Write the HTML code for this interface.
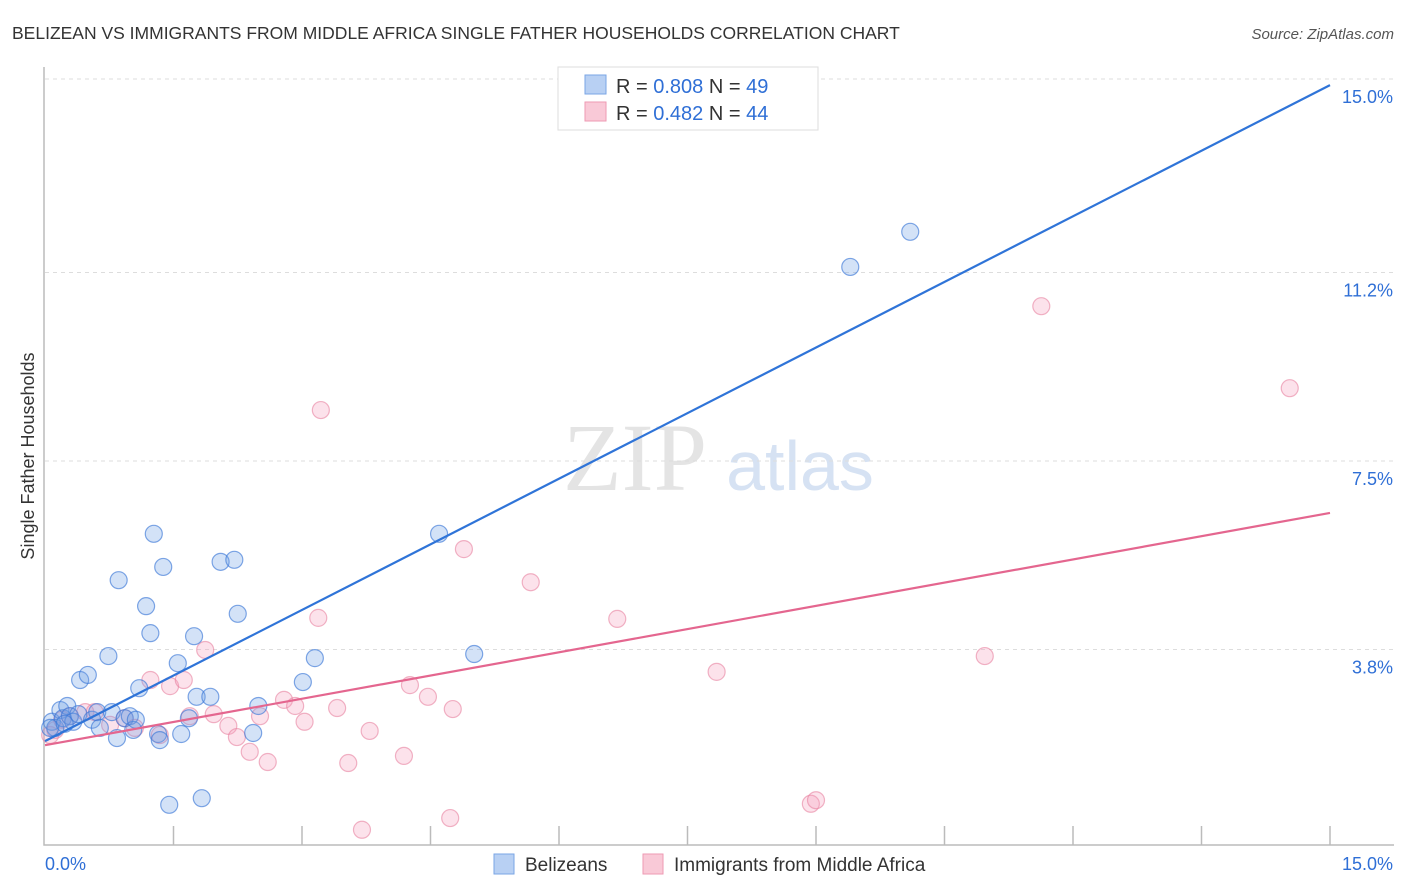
<!DOCTYPE html>
<html><head><meta charset="utf-8"><style>
body{margin:0;background:#fff;font-family:"Liberation Sans",sans-serif;}
svg{display:block}
</style></head><body>
<svg id="chart" width="1406" height="892">
<text x="12" y="39" font-size="17.5" fill="#333">BELIZEAN VS IMMIGRANTS FROM MIDDLE AFRICA SINGLE FATHER HOUSEHOLDS CORRELATION CHART</text>
<text x="1394" y="39" font-size="15" fill="#555" font-style="italic" text-anchor="end">Source: ZipAtlas.com</text>
<text x="0" y="0" transform="translate(34,456) rotate(-90)" font-size="18" fill="#333" text-anchor="middle">Single Father Households</text>
<g><text x="635" y="490" font-size="96" fill="#e4e4e4" font-family="Liberation Serif,serif" text-anchor="middle">ZIP</text><text x="800" y="490" font-size="70" fill="#d6e2f3" text-anchor="middle">atlas</text></g>
<g id="grid"></g><g id="axes"></g><g id="pts"></g><g id="lines"></g>
<g>
<rect x="558" y="67" width="260" height="63" fill="#fff" stroke="#ddd"/>
<rect x="585" y="75" width="21" height="19" fill="#b8d0f3" stroke="#7aa6e6"/>
<rect x="585" y="102" width="21" height="19" fill="#f9c9d7" stroke="#ee9ab3"/>
<text x="616" y="93" font-size="20" fill="#333">R = <tspan fill="#2f6fd6">0.808</tspan>   N = <tspan fill="#2f6fd6">49</tspan></text>
<text x="616" y="120" font-size="20" fill="#333">R = <tspan fill="#2f6fd6">0.482</tspan>   N = <tspan fill="#2f6fd6">44</tspan></text>
</g>
<g>
<rect x="494" y="854" width="20" height="20" fill="#b8d0f3" stroke="#7aa6e6"/>
<text x="525" y="871" font-size="19" fill="#333">Belizeans</text>
<rect x="643" y="854" width="20" height="20" fill="#f9c9d7" stroke="#ee9ab3"/>
<text x="674" y="871" font-size="19" fill="#333">Immigrants from Middle Africa</text>
</g>
</svg>
<script>
const yTicks=[15.0,11.2,7.5,3.8];
const yTickLabels=["15.0%","11.2%","7.5%","3.8%"];
const xTickLabels=["0.0%","15.0%"];
const blueX=[.08,.12,.18,.21,.26,.29,.33,.39,.41,.50,.55,.61,.64,.74,.78,.84,.86,.93,.99,1.03,1.06,1.10,1.18,1.23,1.27,1.32,1.34,1.38,1.45,1.55,1.59,1.68,1.74,1.77,1.83,1.93,2.05,2.21,2.25,2.43,2.49,3.01,3.15,4.60,5.01,9.40,10.10,.06,.23];
const blueY=[2.38,2.26,2.61,2.45,2.69,2.49,2.38,2.53,3.20,3.30,2.42,2.57,2.26,3.67,2.57,2.06,5.16,2.45,2.49,2.22,2.42,3.04,4.65,4.12,6.07,2.14,2.02,5.42,.75,3.53,2.14,2.45,4.06,2.87,.88,2.87,5.52,5.56,4.50,2.16,2.69,3.16,3.63,6.07,3.71,11.31,12.00,2.26,2.34];
const pinkX=[.06,.12,.20,.29,.47,.58,.76,.93,1.05,1.23,1.34,1.46,1.62,1.69,1.87,1.97,2.14,2.24,2.39,2.51,2.60,2.79,2.92,3.03,3.19,3.22,3.41,3.54,3.70,3.79,4.19,4.26,4.47,4.73,4.76,4.89,5.67,6.68,7.84,8.94,9.00,10.97,11.63,14.53];
const pinkY=[2.12,2.22,2.42,2.49,2.57,2.57,2.32,2.45,2.26,3.20,2.12,3.08,3.20,2.49,3.79,2.53,2.30,2.08,1.79,2.49,1.59,2.81,2.69,2.38,4.42,8.50,2.65,1.57,.26,2.20,1.71,3.10,2.87,.49,2.63,5.77,5.12,4.40,3.36,.77,.84,3.67,10.54,8.93];
const blueLine=[2.0,14.88];
const pinkLine=[1.92,6.48];
const xMax=15;
const X=v=>45+v/15*1285;
const Y=v=>843-v/3.75*191;
const NS="http://www.w3.org/2000/svg";
function mk(t,a,p){const e=document.createElementNS(NS,t);for(const k in a)e.setAttribute(k,a[k]);p.appendChild(e);return e;}
const grid=document.getElementById('grid'),axes=document.getElementById('axes'),pts=document.getElementById('pts'),lines=document.getElementById('lines');
yTicks.forEach((v,i)=>{
 const l=mk('line',{x1:45,x2:1394,y1:Y(v),y2:Y(v),stroke:'#ddd','stroke-dasharray':'4,4'},grid);
 
 
 const t=mk('text',{x:1393,y:Y(v)+24,'font-size':18,fill:'#2f6fd6','text-anchor':'end'},grid);
 t.textContent=yTickLabels[i];
 
 
});
const ax=mk('path',{d:'M44,67 V845 H1394',fill:'none',stroke:'#bbb','stroke-width':1.5},axes);


for(let i=1;i<=10;i++){
 const tk=mk('line',{x1:X(i*1.5),x2:X(i*1.5),y1:826,y2:845,stroke:'#bbb','stroke-width':1.5},axes);
 
 
}
const xl0=mk('text',{x:45,y:870,'font-size':18,fill:'#2f6fd6'},axes);xl0.textContent=xTickLabels[0];


const xl1=mk('text',{x:1393,y:870,'font-size':18,fill:'#2f6fd6','text-anchor':'end'},axes);xl1.textContent=xTickLabels[1];


function dots(xs,ys,fill,stroke,name){xs.forEach((x,i)=>{
 const c=mk('circle',{cx:X(x),cy:Y(ys[i]),r:8.5,fill:fill,stroke:stroke,'stroke-width':1.2},pts);
 
 
});}
dots(pinkX,pinkY,'rgba(244,160,188,0.3)','rgba(232,130,160,0.6)','immigrant-point');
dots(blueX,blueY,'rgba(110,160,230,0.3)','rgba(60,120,215,0.65)','belizean-point');
const bl=mk('line',{x1:X(0),y1:Y(blueLine[0]),x2:X(xMax),y2:Y(blueLine[1]),stroke:'#2f74d8','stroke-width':2.2},lines);


const pl=mk('line',{x1:X(0),y1:Y(pinkLine[0]),x2:X(xMax),y2:Y(pinkLine[1]),stroke:'#e4668f','stroke-width':2.2},lines);


</script>
</body></html>
